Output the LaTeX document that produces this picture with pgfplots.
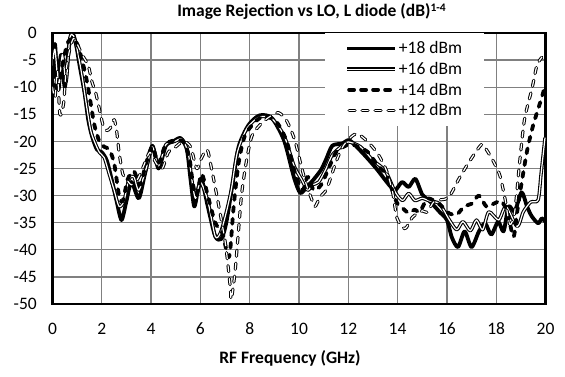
\documentclass[border=0pt]{standalone}
\usepackage{fontspec}
\setmainfont{Carlito}
\usepackage{pgfplots}
\pgfplotsset{compat=1.18}

% Image rejection, L diode, for four LO drive levels
\pgfplotstableread{
f    ir
0.00 -8
0.10 -2
0.20 -9
0.35 -4
0.50 -10
0.65 -3
0.80 0
0.95 -2
1.10 -6
1.30 -11
1.45 -16
1.60 -19
1.80 -21.5
2.00 -22
2.20 -23.5
2.40 -27
2.60 -31
2.80 -34.5
3.00 -31
3.20 -27.5
3.50 -30.5
3.75 -26
4.05 -20.8
4.30 -25
4.60 -20.8
4.90 -20
5.20 -19.4
5.45 -21.5
5.60 -27
5.75 -32
5.90 -29
6.05 -27
6.30 -32
6.60 -37.5
6.85 -38
7.05 -35
7.30 -28
7.55 -21
7.95 -17
8.40 -15.2
8.90 -15.7
9.40 -19.9
9.80 -26.7
10.05 -29.5
10.30 -28.5
10.60 -27
10.90 -25.2
11.10 -23.3
11.35 -20.8
11.75 -20.4
12.05 -19.8
12.55 -22
13.10 -24.8
13.65 -28
13.90 -29
14.18 -27.5
14.45 -28.4
14.72 -26.9
15.00 -29.8
15.30 -31
15.70 -33
16.00 -34.5
16.20 -37.7
16.45 -39.5
16.72 -36.6
17.00 -39.5
17.30 -36.6
17.55 -35.1
17.80 -37.2
18.08 -34.8
18.30 -36.6
18.50 -32
18.75 -32.9
19.03 -29.4
19.25 -32
19.44 -33.8
19.70 -35.1
19.85 -34.2
19.98 -34.8
}\dataA

\pgfplotstableread{
f    ir
0.00 -6
0.10 -3
0.25 -10
0.40 -4
0.55 -9
0.70 -1
0.85 -0.5
1.00 -3
1.20 -8
1.40 -14
1.55 -18
1.70 -20
1.90 -22
2.10 -23
2.30 -26
2.50 -29
2.70 -32
2.90 -31
3.10 -27
3.30 -26.5
3.50 -29
3.80 -25
4.05 -21
4.30 -24.5
4.60 -20.6
4.95 -20
5.25 -19.6
5.50 -22
5.65 -27
5.80 -30.5
6.00 -27.5
6.30 -31
6.60 -37.5
6.80 -37
7.00 -34
7.25 -29
7.50 -22
7.90 -17.5
8.40 -15.5
8.90 -15.8
9.40 -19
9.80 -24.5
10.10 -27
10.35 -29
10.55 -28
10.80 -27.5
11.10 -25
11.35 -22.5
11.70 -21
12.00 -20.1
12.50 -21
13.00 -23.5
13.50 -25.4
13.90 -29.3
14.20 -30.9
14.45 -29.6
14.70 -30.9
15.00 -30.5
15.30 -31
15.70 -31.5
16.10 -34.5
16.40 -36.3
16.65 -34.8
16.95 -36.5
17.20 -34.5
17.45 -36.3
17.70 -33
18.10 -34.5
18.40 -32
18.85 -35.7
19.10 -33
19.40 -31.2
19.70 -30.8
19.82 -26
19.98 -19.3
}\dataB

\pgfplotstableread{
f    ir
0.00 -5
0.20 -11
0.40 -6
0.60 -2
0.80 -1
1.00 -2
1.20 -5
1.40 -9
1.55 -13
1.70 -17
1.90 -20
2.10 -21
2.30 -21.5
2.50 -24
2.70 -30
2.85 -31
3.05 -27
3.30 -25.5
3.55 -28
3.80 -24
4.05 -21
4.30 -24
4.60 -20.5
5.00 -19.8
5.30 -20
5.55 -23
5.70 -28
5.85 -30
6.05 -26
6.30 -30
6.60 -35
6.90 -37
7.10 -41
7.20 -40.5
7.35 -32
7.55 -24
7.80 -19
8.20 -16.5
8.60 -15.3
9.10 -16.5
9.50 -20
9.85 -26
10.15 -29
10.35 -26.5
10.60 -29
10.90 -28
11.20 -25
11.50 -22
11.80 -21
12.10 -20.5
12.40 -21
12.80 -22
13.20 -24.5
13.55 -26.2
13.96 -31.2
14.20 -32.3
14.45 -33.2
14.70 -32.6
14.90 -33
15.20 -30.6
15.50 -31
15.80 -32
16.10 -33.3
16.40 -33.5
16.70 -32
17.00 -31.5
17.30 -30
17.60 -32
17.90 -31.5
18.20 -31
18.45 -33
18.70 -37.6
18.85 -33
19.00 -28.5
19.25 -21.8
19.50 -17
19.80 -12.6
19.97 -10
}\dataC

\pgfplotstableread{
f    ir
0.00 -10
0.10 -12
0.20 -7
0.30 -15
0.45 -13
0.55 -7
0.70 -3
0.85 -1
1.00 -2
1.20 -4
1.45 -6
1.60 -9
1.75 -11
1.90 -14
2.05 -17
2.20 -18
2.35 -17.5
2.50 -16
2.60 -18
2.70 -22
2.85 -26
3.00 -27
3.20 -28
3.45 -27
3.70 -24.5
3.95 -22
4.20 -24
4.45 -25
4.70 -22
5.00 -21
5.30 -20
5.60 -21
5.85 -25
6.00 -23.5
6.27 -21.5
6.45 -25
6.75 -32
7.02 -39
7.21 -46.8
7.25 -49.2
7.40 -44.3
7.54 -36.8
7.68 -29.4
7.88 -23.3
8.09 -19
8.43 -16.9
8.76 -15.6
9.16 -14.7
9.50 -16.2
9.83 -19.8
10.10 -24.7
10.30 -28
10.50 -30.5
10.65 -32
10.85 -30.3
11.10 -29
11.30 -26.5
11.50 -23.8
11.80 -20.8
12.30 -18.6
12.75 -19.9
13.20 -22.3
13.55 -25.4
13.80 -29.4
13.98 -34.2
14.30 -36.1
14.60 -34
15.00 -32.8
15.20 -33.1
15.50 -31
16.05 -30.4
16.50 -26.8
16.90 -23.8
17.40 -20.6
17.60 -21.5
17.90 -23.8
18.15 -26.3
18.35 -30.4
18.55 -35.3
18.75 -33
18.95 -23.9
19.15 -15.9
19.45 -10.3
19.65 -6
19.85 -4.5
}\dataD

\begin{document}
\begin{tikzpicture}
\useasboundingbox (0,0) rectangle (565bp,377bp);
\begin{axis}[
  at={(52.5bp,73bp)}, anchor=south west,
  scale only axis, width=493bp, height=271bp,
  xmin=0, xmax=20, ymin=-50, ymax=0,
  xtick={0,2,...,20}, ytick={-50,-45,...,0},
  grid=major,
  major grid style={draw=black!50, line width=1.3bp},
  axis line style={line width=2.2bp},
  major tick length=0pt,
  /pgf/number format/assume math mode=true,
  tick label style={font=\fontsize{17.5bp}{20bp}\selectfont},
  xticklabel style={anchor=base, yshift=-30bp},
  yticklabel style={anchor=east, inner sep=0pt, xshift=-15.5bp},
  title={Image Rejection vs LO, L diode (dB)\raisebox{5bp}{\fontsize{11.5bp}{12bp}\selectfont 1-4}},
  title style={font=\bfseries\fontsize{17.5bp}{20bp}\selectfont, at={(0.5,1)}, anchor=base, yshift=10.5bp, xshift=12.5bp, inner sep=0pt},
  xlabel={RF Frequency (GHz)},
  xlabel style={font=\bfseries\fontsize{17.5bp}{20bp}\selectfont, at={(0.5,0)}, anchor=base, yshift=-59bp, xshift=-9bp, inner sep=0pt},
  legend style={at={(0.5527,1)}, anchor=north west, draw=none, fill=white,
    font=\fontsize{17.5bp}{20bp}\selectfont, inner xsep=20bp, inner ysep=6.5bp,
    row sep=3bp, nodes={inner sep=2bp}},
  legend cell align=left,
  every axis plot/.append style={smooth, tension=0.45, line join=round},
]
% +18 dBm
\addplot[black, line width=3.8bp, forget plot] table[x=f, y=ir] {\dataA};
% +16 dBm: outlined line
\addplot[black, line width=3.4bp, forget plot] table[x=f, y=ir] {\dataB};
\addplot[white, line width=1.2bp, forget plot] table[x=f, y=ir] {\dataB};
% +14 dBm
\addplot[black, line width=3.8bp, line cap=round, dash pattern=on 5bp off 7bp, forget plot] table[x=f, y=ir] {\dataC};
% +12 dBm: outlined dashes
\addplot[black, line width=3.2bp, line cap=round, dash pattern=on 6bp off 7bp, forget plot] table[x=f, y=ir] {\dataD};
\addplot[white, line width=1.2bp, line cap=round, dash pattern=on 6bp off 7bp, forget plot] table[x=f, y=ir] {\dataD};

\addlegendimage{legend image code/.code={\draw[black, line width=3.8bp] (0bp,0bp) -- (48bp,0bp);}}
\addlegendentry{+18 dBm}
\addlegendimage{legend image code/.code={\draw[black, line width=3.4bp] (0bp,0bp) -- (48bp,0bp); \draw[white, line width=1.2bp] (0bp,0bp) -- (48bp,0bp);}}
\addlegendentry{+16 dBm}
\addlegendimage{legend image code/.code={\draw[black, line width=3.8bp, line cap=round, dash pattern=on 5bp off 7bp] (2bp,0bp) -- (48bp,0bp);}}
\addlegendentry{+14 dBm}
\addlegendimage{legend image code/.code={\draw[black, line width=3.2bp, line cap=round, dash pattern=on 6bp off 7bp] (2bp,0bp) -- (48bp,0bp); \draw[white, line width=1.2bp, line cap=round, dash pattern=on 6bp off 7bp] (2bp,0bp) -- (48bp,0bp);}}
\addlegendentry{+12 dBm}
\end{axis}
\end{tikzpicture}
\end{document}
